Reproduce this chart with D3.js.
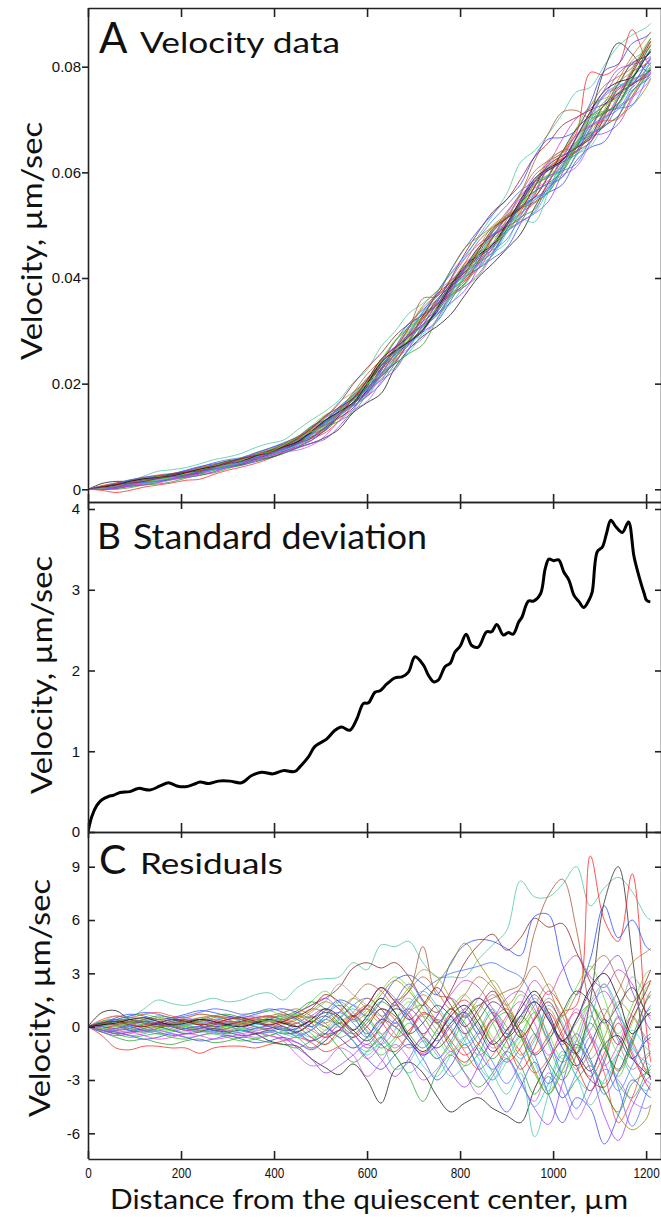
<!DOCTYPE html>
<html><head><meta charset="utf-8">
<script src="https://cdn.jsdelivr.net/npm/d3@7"></script>
<style>body{margin:0;background:#fff}svg{display:block}</style>
</head><body><svg id="chart" width="661" height="1219"></svg>
<script>
// ---------- DATA ----------
const distance = [0,30,60,90,120,150,180,210,240,270,300,330,360,390,420,450,480,510,540,570,600,630,660,690,720,750,780,810,840,870,900,930,960,990,1020,1050,1080,1110,1140,1170,1200,1210];
const meanVelocity = [0,0.0003,0.0006,0.0011,0.0015,0.0019,0.0024,0.0029,0.0034,0.0040,0.0047,0.0053,0.0061,0.0068,0.0078,0.0090,0.0105,0.0121,0.0141,0.0166,0.0194,0.0224,0.0254,0.0285,0.0316,0.0347,0.0379,0.0410,0.0442,0.0473,0.0505,0.0537,0.0568,0.0600,0.0631,0.0662,0.0693,0.0724,0.0755,0.0784,0.0812,0.0822];
const residualToVelocity = 0.001;

const sdDistance = [0,8,19,30,44,55,69,90,108,133,155,173,191,209,227,241,259,280,305,330,352,373,398,420,445,456,474,488,513,531,545,563,578,592,603,617,628,642,660,675,689,703,721,732,743,753,768,779,789,800,813,825,839,857,868,879,893,904,914,926,933,947,958,973,983,991,1001,1012,1023,1034,1045,1056,1066,1077,1084,1095,1106,1115,1124,1135,1149,1162,1174,1185,1196,1201,1209];
const sdVelocity = [0,0.19,0.33,0.40,0.44,0.455,0.49,0.50,0.54,0.52,0.57,0.61,0.57,0.56,0.59,0.62,0.60,0.63,0.63,0.61,0.70,0.74,0.72,0.76,0.75,0.81,0.93,1.06,1.15,1.26,1.30,1.26,1.40,1.59,1.60,1.73,1.75,1.83,1.91,1.92,1.98,2.17,2.07,1.94,1.86,1.88,2.05,2.09,2.23,2.30,2.45,2.31,2.29,2.48,2.48,2.57,2.44,2.47,2.45,2.60,2.66,2.86,2.86,2.95,3.26,3.38,3.36,3.37,3.22,3.12,2.93,2.85,2.78,2.87,2.97,3.47,3.53,3.70,3.86,3.78,3.71,3.84,3.41,3.16,2.95,2.87,2.85];

const res01 = [0,0.3,0.6,0.5,1.0,1.5,1.3,1.2,1.4,1.6,1.4,1.5,1.8,1.9,1.5,2.2,2.6,2.7,2.8,3.6,3.2,4.6,4.5,4.8,3.6,2.8,2.8,2.8,3.8,4.6,5.4,8.2,7.3,7.3,8.0,9.0,6.8,7.8,8.4,7.6,6.2,6.0];
const res02 = [0,-0.5,-1.2,-1.3,-1.1,-1.1,-1.2,-1.2,-1.5,-1.2,-1.1,-1.1,-1.2,-1.0,-0.8,-0.6,-0.9,-1.4,-1.1,-0.6,0.2,1.0,0.4,-0.8,-1.5,-0.6,0.8,1.5,0.6,-0.9,-2.0,-1.2,0.5,2.0,1.0,-1.5,-2.8,-1.5,0.5,-0.8,-2.5,-2.8];
const res03 = [0,0.8,0.9,0.4,0.3,0.1,0.0,-0.1,0.0,-0.2,-0.3,-0.2,-0.4,-0.8,-1.0,-1.1,-1.8,-2.3,-2.7,-2.1,-3.0,-4.3,-2.4,-2.0,-2.6,-3.9,-4.8,-4.3,-4.0,-4.6,-5.0,-5.4,-3.5,-2.0,-0.8,-1.5,-2.5,-1.0,-0.5,-1.8,-2.6,-2.8];
const res04 = [0,0.2,0.1,-0.2,-0.3,-0.1,0.2,0.3,0.1,-0.2,-0.1,0.2,0.4,0.3,0.0,-0.3,0.2,0.8,0.5,-0.2,-0.8,0.0,1.0,0.6,-0.5,-1.2,-0.4,0.8,1.6,0.7,-0.6,0.2,1.4,0.4,-0.8,-1.5,1.5,7.0,9.0,4.0,-2.0,-3.0];
const res05 = [0,0.1,0.3,0.2,0.0,0.2,0.4,0.3,0.1,0.3,0.5,0.4,0.2,0.1,0.3,0.6,0.2,-0.4,-0.2,0.5,1.0,0.3,-0.6,-0.2,0.7,0.4,-0.8,-1.6,-0.9,0.4,1.0,-0.2,-1.5,-0.5,0.8,1.2,9.6,6.0,4.8,8.6,0.0,-2.0];
const res06 = [0,0.3,0.4,0.2,0.3,0.5,0.4,0.2,0.3,0.5,0.6,0.4,0.2,0.4,0.7,0.5,0.0,-0.6,-0.2,0.6,1.2,2.2,1.5,2.0,4.5,1.8,1.6,0.5,1.2,1.6,2.0,2.4,5.3,7.4,8.3,5.5,1.0,-1.0,-2.5,-1.0,1.5,2.0];
const res07 = [0,-0.1,0.1,0.3,0.2,0.0,0.1,0.3,0.4,0.2,0.1,0.3,0.5,0.6,0.4,0.8,1.2,1.6,2.2,3.3,3.6,3.3,3.6,2.8,1.5,0.8,2.0,3.6,4.6,5.2,4.3,5.0,6.1,5.6,5.8,4.2,2.5,0.5,-1.0,0.8,2.6,3.2];
const res08 = [0,0.2,0.5,0.7,0.6,0.4,0.5,0.7,0.9,0.8,0.6,0.5,0.7,0.9,1.0,0.8,0.5,0.9,1.5,1.2,0.6,1.4,2.6,2.9,2.4,1.8,3.6,4.6,4.9,4.8,4.4,4.0,6.2,6.3,3.5,1.8,3.8,6.8,5.0,6.0,4.5,4.3];
const res09 = [0,-0.2,-0.4,-0.6,-0.5,-0.4,-0.6,-0.7,-0.5,-0.4,-0.6,-0.8,-0.7,-0.5,-0.3,-0.6,-1.2,-0.8,0.2,0.6,-0.3,-1.2,-0.6,0.8,1.2,0.3,-1.0,-2.2,-1.5,0.2,0.8,-0.5,-2.6,-3.8,-2.0,0.4,1.2,-0.8,-3.2,-4.0,-2.6,-2.2];
const res10 = [0,-0.3,-0.5,-0.4,-0.2,-0.3,-0.5,-0.4,-0.2,-0.3,-0.5,-0.6,-0.4,-0.3,-0.6,-1.2,-1.8,-2.6,-2.2,-1.6,-1.0,-1.8,-2.8,-1.8,-0.6,-1.4,-2.6,-3.4,-2.2,-0.8,-1.6,-3.0,-4.6,-5.5,-3.2,-1.0,-2.4,-5.0,-6.4,-4.5,-3.0,-2.8];
const res11 = [0,0.1,0.2,0.0,-0.2,-0.1,0.1,0.0,-0.2,-0.1,0.1,0.2,0.0,-0.2,0.1,0.4,0.9,1.4,1.0,0.3,0.8,1.8,2.6,2.0,1.2,2.4,3.5,4.7,3.6,2.4,1.2,-0.5,-2.4,-3.8,-2.5,-1.0,-2.0,-3.6,-5.0,-5.8,-5.2,-4.4];
const res12 = [0,0.2,0.3,0.5,0.4,0.2,0.0,0.2,0.4,0.3,0.1,0.0,0.2,0.3,0.2,-0.2,-0.6,-0.2,0.5,1.0,0.4,-0.6,-1.6,-2.6,-1.8,-0.6,0.4,-0.8,-2.2,-3.0,-1.8,-3.0,-4.5,-3.2,-1.4,-2.8,-3.6,-1.8,0.6,-1.0,-2.4,-2.6];
const res13 = [0,0.1,-0.1,0.2,0.4,0.3,0.1,0.3,0.5,0.4,0.2,0.4,0.6,0.5,0.3,0.2,0.8,1.4,2.4,1.8,1.2,0.6,1.0,1.6,0.6,-0.4,0.2,1.0,0.0,-1.2,-0.6,0.4,1.6,0.5,-0.8,0.2,1.4,2.4,1.0,2.8,1.8,1.6];
const res14 = [0,-0.1,-0.3,-0.2,0.0,0.2,0.1,-0.1,-0.3,-0.2,0.0,-0.2,-0.4,-0.3,-0.1,-0.4,-0.8,-0.4,0.4,1.2,1.6,1.0,0.2,1.0,2.0,2.6,3.0,3.2,3.4,3.6,3.2,2.8,1.4,-0.6,-2.8,-4.6,-3.0,-1.2,-3.4,-5.6,-3.8,-3.2];
const res15 = [0,0.3,0.4,0.6,0.7,0.5,0.3,0.5,0.7,0.6,0.4,0.6,0.8,0.9,0.6,0.7,1.4,2.0,1.2,0.4,1.0,2.0,2.8,2.2,1.0,0.2,1.0,1.8,0.6,-0.8,0.4,1.8,0.8,-0.6,0.6,2.2,3.4,1.6,-0.4,1.2,3.0,3.2];
const res16 = [0,0.2,0.1,-0.1,-0.2,0.0,0.2,0.1,-0.1,0.0,0.2,0.1,-0.1,0.1,0.3,0.0,0.6,1.0,0.4,-0.4,-1.0,0.0,1.4,0.8,-0.4,0.6,1.8,2.6,2.2,1.0,-0.2,1.2,2.6,1.8,3.2,4.0,2.8,2.2,3.2,2.4,0.8,0.4];
const res17 = [0,0.4,0.6,0.5,0.7,0.8,0.6,0.5,0.7,0.6,0.5,0.4,0.5,0.6,0.4,0.2,-0.2,-0.6,-0.2,0.6,1.2,0.6,-0.4,-1.2,-0.6,0.4,-0.2,-1.4,-2.4,-1.6,-0.6,-1.4,-2.6,-1.8,-0.2,0.8,-0.6,-2.6,-5.4,-4.0,-1.8,-1.5];
const res18 = [0,-0.2,-0.3,-0.5,-0.7,-0.6,-0.4,-0.6,-0.8,-0.7,-0.5,-0.7,-0.9,-0.8,-0.6,-0.9,-1.3,-0.8,-0.2,-0.8,-1.8,-2.4,-1.6,-1.0,-1.8,-3.0,-2.2,-1.0,-2.4,-3.6,-4.8,-3.4,-2.0,-3.8,-5.4,-4.0,-4.6,-6.6,-5.0,-3.0,-3.8,-4.0];
const res19 = [0,-0.1,-0.2,-0.1,0.1,0.0,-0.2,-0.3,-0.1,0.1,0.0,-0.2,-0.1,0.1,-0.1,-0.4,-0.2,0.4,0.0,-0.8,-1.4,-1.0,-2.4,-2.0,-0.8,-1.6,-2.8,-2.2,-1.2,-2.6,-3.8,-2.6,-6.2,-3.8,-1.6,-2.8,-4.4,-3.0,-1.6,-2.8,-3.6,-3.4];
const res20 = [0,0.1,0.3,0.4,0.2,0.1,0.3,0.4,0.2,0.0,0.1,0.3,0.2,0.0,-0.2,-0.1,0.3,0.0,-0.6,-1.2,-0.6,0.4,0.0,-0.8,-1.6,-1.0,0.2,0.8,-0.2,-1.4,-0.6,0.6,1.4,0.4,-1.2,-2.2,-1.0,0.4,-0.6,-1.8,-0.8,-0.6];
const res21 = [0,-0.3,-0.6,-0.8,-0.7,-0.9,-1.0,-0.8,-0.7,-0.9,-0.8,-0.6,-0.7,-0.9,-1.0,-1.2,-0.8,-0.4,-1.2,-2.0,-1.4,-0.6,-1.6,-2.8,-4.2,-2.6,-1.6,-2.6,-3.4,-2.6,-1.4,-2.2,-3.8,-2.8,-4.0,-3.0,-2.2,-3.6,-4.8,-3.2,-2.6,-2.4];
const res22 = [0,0.2,0.4,0.3,0.1,0.2,0.4,0.5,0.3,0.2,0.4,0.6,0.5,0.3,0.5,0.8,1.2,1.6,1.0,0.4,1.2,2.2,1.6,0.6,-0.4,0.6,1.6,0.8,-0.4,0.4,1.6,2.0,1.0,-0.8,-2.0,-0.8,1.2,2.0,0.6,-1.4,-3.0,-3.2];
const res23 = [0,0.1,0.0,0.2,0.3,0.2,0.0,0.1,0.3,0.4,0.3,0.1,0.3,0.4,0.2,0.5,1.0,0.8,0.2,0.8,1.6,1.0,0.0,0.8,1.8,1.0,-0.2,-1.2,-0.4,0.8,0.0,-1.6,-0.6,1.0,-0.4,-2.4,-1.4,0.6,2.0,3.6,4.2,4.4];
const res24 = [0,-0.2,-0.4,-0.3,-0.1,0.0,-0.2,-0.4,-0.3,-0.1,-0.3,-0.5,-0.4,-0.2,-0.4,-0.3,0.2,0.6,0.0,-0.6,0.0,1.0,0.6,-0.4,0.2,1.2,0.6,-0.4,0.4,1.4,0.8,-0.4,-1.6,-0.8,0.8,2.0,1.4,0.2,1.2,2.2,0.8,0.6];
const res25 = [0,0.1,0.2,0.1,-0.1,-0.3,-0.2,0.0,-0.2,-0.4,-0.3,-0.1,-0.3,-0.5,-0.2,0.2,-0.4,-1.0,-0.4,0.4,-0.6,-1.6,-0.8,0.2,-0.6,-1.8,-1.0,0.4,1.2,0.2,-1.2,-0.4,0.8,-1.0,-2.6,-1.2,0.6,-1.0,-2.8,-1.0,0.8,1.0];
const res26 = [0,0.3,0.2,0.0,0.2,0.4,0.3,0.1,0.2,0.4,0.5,0.3,0.1,0.3,0.5,0.4,0.0,0.6,1.4,0.8,-0.2,-1.0,-0.2,1.2,2.0,1.2,0.0,-1.0,-0.2,1.0,-0.4,-1.8,-0.8,1.2,0.2,-1.6,0.4,2.4,1.0,-1.2,-2.0,-2.2];
const res27 = [0,-0.1,-0.3,-0.5,-0.4,-0.2,-0.4,-0.6,-0.5,-0.3,-0.2,-0.4,-0.6,-0.5,-0.8,-1.6,-2.2,-2.0,-1.2,-1.6,-2.8,-2.0,-1.0,-1.8,-3.0,-2.4,-1.4,-2.6,-3.8,-2.8,-1.8,-3.2,-4.2,-2.6,-3.6,-5.2,-3.8,-2.4,-3.0,-4.2,-4.6,-4.4];
const res28 = [0,0.0,-0.2,-0.1,0.1,0.2,0.0,-0.2,-0.1,0.1,0.3,0.2,0.0,-0.1,0.2,0.0,-0.6,-1.0,-0.2,0.6,0.0,-1.0,-1.4,-0.4,0.8,0.2,-1.2,-2.0,-1.0,0.4,-0.8,-2.4,-1.2,0.8,-0.6,-2.2,-3.6,-2.0,0.2,-1.6,-3.2,-3.6];
const res29 = [0,0.2,0.3,0.4,0.2,0.0,0.1,0.3,0.2,0.0,-0.1,0.1,0.3,0.2,0.4,0.6,0.4,0.0,0.8,1.6,1.0,0.2,1.2,2.2,3.2,2.8,1.6,0.6,1.6,2.6,1.4,0.2,1.2,2.4,1.0,-0.6,-1.8,-0.6,1.4,0.6,-0.6,-0.8];
const res30 = [0,0.2,0.4,0.6,0.8,0.7,0.5,0.6,0.8,1.0,0.9,0.7,0.8,1.0,0.8,0.4,0.0,0.6,1.2,0.6,-0.4,0.4,1.4,2.4,1.4,0.2,1.0,0.0,-1.4,-2.4,-1.4,-0.2,-1.6,-3.2,-2.0,-0.4,-1.8,-3.8,-2.6,-0.8,0.8,1.2];
const res31 = [0,-0.2,-0.1,0.1,0.0,-0.2,-0.1,0.1,0.2,0.0,-0.2,0.0,0.2,0.1,-0.1,0.2,0.6,0.2,-0.6,-0.2,0.4,-0.4,-1.2,-0.4,0.6,-0.2,-1.4,-0.6,0.8,1.8,0.8,-0.6,0.4,1.6,0.6,-1.2,-0.2,1.0,-0.8,-2.4,-1.6,-1.4];
const res32 = [0,0.1,0.3,0.2,0.4,0.6,0.5,0.3,0.4,0.6,0.7,0.5,0.3,0.5,0.6,0.9,1.4,1.0,0.2,-0.4,0.4,1.4,0.8,-0.4,-1.2,-0.2,1.0,0.2,-1.0,-1.8,-0.8,0.6,-0.4,-2.0,-3.0,-1.6,0.2,-1.2,-2.4,-0.6,1.4,1.8];
const res33 = [0,-0.2,-0.4,-0.3,-0.5,-0.7,-0.6,-0.4,-0.5,-0.7,-0.6,-0.4,-0.3,-0.5,-0.7,-0.9,-1.2,-0.6,0.0,-0.8,-1.8,-1.0,0.2,-0.6,-1.6,-0.6,0.6,-0.4,-1.6,-0.8,0.6,1.4,0.2,-1.6,-0.6,1.0,-0.4,-2.2,-1.0,0.6,-0.8,-1.0];
const res34 = [0,0.0,0.1,-0.1,-0.3,-0.2,0.0,0.1,-0.1,-0.3,-0.4,-0.2,0.0,-0.2,-0.4,-0.6,-0.2,0.4,0.0,-0.8,-1.6,-0.8,0.2,-0.8,-2.2,-2.8,-1.6,-0.6,-1.8,-3.0,-2.0,-0.6,-2.0,-3.6,-2.4,-0.8,-2.0,-3.2,-1.4,-0.2,-1.2,-1.4];
const res35 = [0,0.2,0.1,0.3,0.5,0.4,0.2,0.3,0.5,0.6,0.4,0.2,0.4,0.6,0.8,1.0,0.6,0.2,0.8,1.6,2.4,2.0,1.2,2.0,2.8,2.0,1.0,1.8,2.8,2.2,1.2,2.2,3.4,2.2,0.6,1.8,3.2,4.0,2.6,1.4,2.4,2.6];
const res36 = [0,-0.3,-0.2,0.0,-0.2,-0.4,-0.3,-0.1,0.0,-0.2,-0.4,-0.3,-0.1,0.0,-0.2,-0.5,-0.2,0.4,0.8,0.2,-0.6,0.2,1.2,0.4,-0.8,-1.8,-0.8,0.6,-0.6,-2.0,-3.2,-2.0,-0.4,-2.2,-4.0,-2.6,-0.6,-2.0,-3.6,-2.2,-0.6,-0.4];
const res37 = [0,0.1,0.2,0.4,0.5,0.3,0.1,0.2,0.4,0.3,0.1,0.0,0.2,0.4,0.2,0.0,0.4,1.0,0.6,-0.2,0.6,1.6,0.8,-0.6,-1.4,-0.6,0.6,1.2,0.2,-1.0,-0.2,1.0,2.0,0.8,-0.8,0.4,2.2,3.0,1.6,-0.4,0.6,0.8];
const res38 = [0,-0.1,0.0,0.2,0.1,-0.1,-0.2,0.0,0.2,0.1,0.0,0.2,0.4,0.3,0.5,0.7,0.4,-0.2,0.4,1.2,0.6,-0.4,0.4,1.4,0.6,-0.6,-1.6,-0.8,0.4,-0.6,-1.8,-0.8,0.8,-0.4,-1.8,-0.4,1.2,0.2,-1.4,0.2,2.2,2.4];
const res39 = [0,0.2,0.3,0.1,0.0,0.2,0.4,0.3,0.1,0.2,0.4,0.5,0.3,0.1,0.3,0.6,1.0,1.8,1.4,0.6,1.2,2.2,1.4,0.4,1.2,2.2,1.2,0.0,1.0,2.0,0.8,-0.6,0.4,1.4,0.0,-1.6,-3.0,-3.4,-1.6,0.4,2.0,2.6];
const res40 = [0,0.0,-0.1,0.1,0.3,0.2,0.0,-0.2,-0.1,0.1,0.2,0.0,-0.2,-0.1,0.0,-0.3,-0.8,-0.4,0.2,-0.4,-1.2,-0.6,0.4,1.0,0.2,-0.8,0.0,1.0,1.6,0.8,-0.4,0.6,1.8,0.6,-1.0,0.4,2.0,3.2,4.0,2.0,0.2,-0.2];

const residualSeries = [res01,res02,res03,res04,res05,res06,res07,res08,res09,res10,res11,res12,res13,res14,res15,res16,res17,res18,res19,res20,res21,res22,res23,res24,res25,res26,res27,res28,res29,res30,res31,res32,res33,res34,res35,res36,res37,res38,res39,res40];
const seriesColors = ['#45c49a','#ff2020','#111111','#222222','#ff1a1a','#a0522d','#8b1a1a','#2040ff','#22bb22','#9a32ff','#8a8a00','#22c4c4','#999999','#3a6cff','#55dd33','#cc33cc','#ff3b3b','#3344ee','#40c8a0','#1a1aa0','#2a9a2a','#aa44ff','#b8742a','#333333','#33cc33','#2cb5e8','#bb55ee','#e01818','#9a9a20','#4455ee','#888888','#1f8f1f','#e040e0','#33d0d0','#b06030','#5070ff','#000000','#66e033','#991111','#8040c8'];

const xTicks = [0,200,400,600,800,1000,1200];
const xTickLabels = ['0','200','400','600','800','1000','1200'];
const yTicksA = [0,0.02,0.04,0.06,0.08];
const yTickLabelsA = ['0','0.02','0.04','0.06','0.08'];
const yTicksB = [0,1,2,3,4];
const yTickLabelsB = ['0','1','2','3','4'];
const yTicksC = [-6,-3,0,3,6,9];
const yTickLabelsC = ['-6','-3','0','3','6','9'];

// ---------- LAYOUT ----------
const svg = d3.select('#chart');
const xL = 88, xR = 661;
const x = d3.scaleLinear().domain([0,1232]).range([xL,xR]);
const panels = {
  A:{top:8, bottom:502},
  B:{top:502, bottom:832},
  C:{top:832, bottom:1159}
};
const yA = d3.scaleLinear().domain([0,0.08]).range([489.3,66.7]);
const yB = d3.scaleLinear().domain([0,4]).range([832,509]);
const yC = d3.scaleLinear().domain([-6,9]).range([1133.3,866.7]);

const titleFont = 'Lato, "Noto Sans", sans-serif';
const tickFont = '"Liberation Sans", Arial, sans-serif';

const defs = svg.append('defs');
Object.entries(panels).forEach(([k,p])=>{
  defs.append('clipPath').attr('id','clip'+k).append('rect')
    .attr('x',xL).attr('y',p.top).attr('width',xR-xL).attr('height',p.bottom-p.top);
});

// ---------- LINES ----------
const curve = d3.curveCatmullRom.alpha(0.5);
const lineA = d3.line().x((d,i)=>x(distance[i])).y(d=>yA(d)).curve(curve);
const lineC = d3.line().x((d,i)=>x(distance[i])).y(d=>yC(d)).curve(curve);
const lineB = d3.line().x((d,i)=>x(sdDistance[i])).y(d=>yB(d)).curve(curve);

// Panel A: velocity profiles = mean profile + residual (residual units are 1e-3 of panel A units)
const velocitySeries = residualSeries.map(r => r.map((v,i)=> meanVelocity[i] + v*residualToVelocity));

const gA = svg.append('g').attr('clip-path','url(#clipA)');
gA.selectAll('path').data(velocitySeries).join('path')
  .attr('d',lineA).attr('fill','none')
  .attr('stroke',(d,i)=>seriesColors[i]).attr('stroke-width',1).attr('stroke-opacity',0.75);

const gB = svg.append('g').attr('clip-path','url(#clipB)');
gB.append('path').datum(sdVelocity).attr('d',lineB).attr('fill','none')
  .attr('stroke','#000').attr('stroke-width',3).attr('stroke-linejoin','round');

const gC = svg.append('g').attr('clip-path','url(#clipC)');
gC.selectAll('path').data(residualSeries).join('path')
  .attr('d',lineC).attr('fill','none')
  .attr('stroke',(d,i)=>seriesColors[i]).attr('stroke-width',1).attr('stroke-opacity',0.75);

// ---------- AXES ----------
function styleAxis(g){
  g.selectAll('path.domain').attr('stroke','#222').attr('stroke-width',1.6);
  g.selectAll('.tick line').attr('stroke','#222').attr('stroke-width',1.6);
  g.selectAll('text').attr('fill','#111');
}
svg.append('g').attr('transform',`translate(0,${panels.A.top})`)
  .call(d3.axisTop(x).tickValues(xTicks).tickSizeInner(-9).tickSizeOuter(0).tickFormat(''))
  .call(styleAxis);
[[panels.A.bottom,-8,'bottom'],[panels.B.top,-7,'top'],[panels.B.bottom,-9,'bottom'],[panels.C.top,-6,'top']].forEach(([yy,ts,side])=>{
  const ax = side==='bottom'? d3.axisBottom(x) : d3.axisTop(x);
  svg.append('g').attr('transform',`translate(0,${yy})`)
    .call(ax.tickValues(xTicks).tickSizeInner(ts).tickSizeOuter(0).tickFormat(''))
    .call(styleAxis);
});
const gxC = svg.append('g').attr('transform',`translate(0,${panels.C.bottom})`)
  .call(d3.axisBottom(x).tickValues(xTicks).tickSizeInner(-8).tickSizeOuter(0).tickPadding(9)
    .tickFormat((d,i)=>xTickLabels[i]))
  .call(styleAxis);
gxC.selectAll('text').attr('font-family',tickFont).attr('font-size',14)
  .attr('transform','scale(0.84,1)');

const gyA = svg.append('g').attr('transform',`translate(${xL},0)`)
  .call(d3.axisLeft(yA).tickValues(yTicksA).tickSizeInner(6).tickSizeOuter(0).tickPadding(1)
    .tickFormat((d,i)=>yTickLabelsA[i]))
  .call(styleAxis);
const gyB = svg.append('g').attr('transform',`translate(${xL},0)`)
  .call(d3.axisLeft(yB).tickValues(yTicksB).tickSizeInner(-7).tickSizeOuter(0).tickPadding(8)
    .tickFormat((d,i)=>yTickLabelsB[i]))
  .call(styleAxis);
const gyC = svg.append('g').attr('transform',`translate(${xL},0)`)
  .call(d3.axisLeft(yC).tickValues(yTicksC).tickSizeInner(-7).tickSizeOuter(0).tickPadding(8)
    .tickFormat((d,i)=>yTickLabelsC[i]))
  .call(styleAxis);
[gyA,gyB,gyC].forEach(g=>g.selectAll('text').attr('font-family',tickFont).attr('font-size',15));
[[gyA,panels.A],[gyB,panels.B],[gyC,panels.C]].forEach(([g,p])=>{
  g.select('path.domain').attr('d',`M0.5,${p.top}V${p.bottom}`);
});

[[yA,yTicksA,panels.A],[yB,yTicksB,panels.B],[yC,yTicksC,panels.C]].forEach(([ys,tv,p])=>{
  const g = svg.append('g').attr('transform',`translate(${xR},0)`)
    .call(d3.axisLeft(ys).tickValues(tv).tickSizeInner(6).tickSizeOuter(0).tickFormat(''))
    .call(styleAxis);
  g.select('path.domain').attr('d',`M0.5,${p.top}V${p.bottom}`);
});

// ---------- TEXT ----------
function fitText(sel, width){ sel.attr('textLength',width).attr('lengthAdjust','spacingAndGlyphs'); }
function panelTitle(letter, lx, lsize, label, tx, tsize, tw, baseline){
  svg.append('text').attr('x',lx).attr('y',baseline).attr('font-family',titleFont)
    .attr('font-size',lsize).attr('fill','#111').text(letter);
  const t = svg.append('text').attr('x',tx).attr('y',baseline).attr('font-family',titleFont)
    .attr('font-size',tsize).attr('fill','#111').text(label);
  fitText(t,tw);
}
panelTitle('A',99,42,'Velocity data',140,28,200,53);
panelTitle('B',97,37,'Standard deviation',133,34,294,549);
panelTitle('C',99,41,'Residuals',140,28,143,874);

function yTitle(cx, cy){
  const t = svg.append('text')
    .attr('transform',`translate(${cx},${cy}) rotate(-90)`)
    .attr('text-anchor','middle').attr('font-family',titleFont).attr('font-size',28)
    .attr('fill','#111').text('Velocity, \u00B5m/sec');
  fitText(t,238);
}
yTitle(42,241);
yTitle(52,675);
yTitle(50,998);

const xt = svg.append('text').attr('x',369).attr('y',1209).attr('text-anchor','middle')
  .attr('font-family',titleFont).attr('font-size',27).attr('fill','#111')
  .text('Distance from the quiescent center, \u00B5m');
fitText(xt,518);
</script>
</body></html>
